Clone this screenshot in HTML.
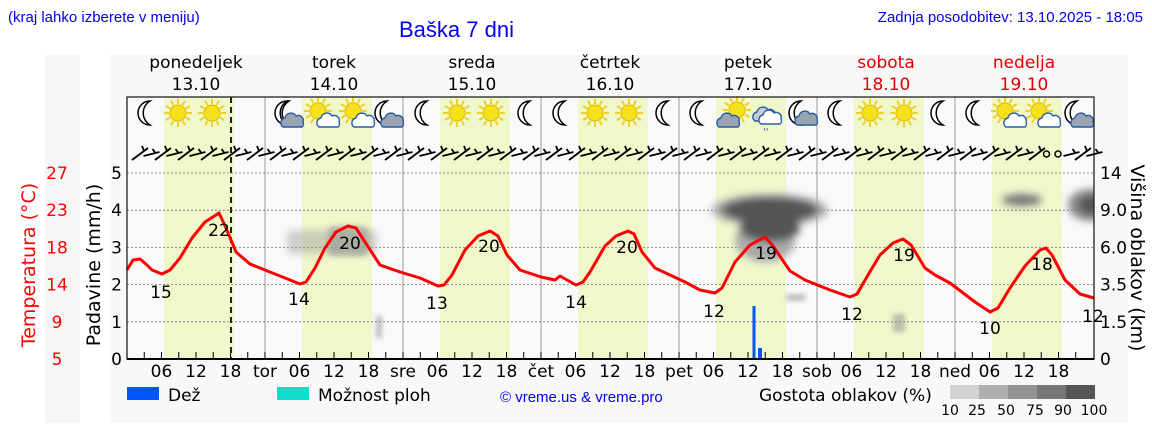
<!DOCTYPE html>
<html><head><meta charset="utf-8">
<style>
html,body{margin:0;padding:0;background:#fff;}
svg{display:block;}
text{font-family:"DejaVu Sans","Liberation Sans",sans-serif;}
.lib{font-family:"Liberation Sans",sans-serif;}
</style></head>
<body>
<svg id="s" width="1152" height="443" viewBox="0 0 1152 443" xmlns="http://www.w3.org/2000/svg">
<defs>
<filter id="bl" x="-30%" y="-30%" width="160%" height="160%"><feGaussianBlur stdDeviation="4"/></filter>
<filter id="bl2" x="-30%" y="-30%" width="160%" height="160%"><feGaussianBlur stdDeviation="2.5"/></filter>
<clipPath id="pc"><rect x="127" y="97" width="967" height="262"/></clipPath>
</defs>
<rect x="45" y="55" width="35" height="368" fill="#f6f6f6"/>
<rect x="110" y="55" width="1018" height="368" fill="#f8f8f8"/>
<text class="lib" x="8" y="22" font-size="15" fill="#0000ee">(kraj lahko izberete v meniju)</text>
<text class="lib" x="399" y="37" font-size="22" fill="#0000ee">Baška 7 dni</text>
<text class="lib" x="1143" y="22" font-size="15" fill="#0000ee" text-anchor="end">Zadnja posodobitev: 13.10.2025 - 18:05</text>
<g id="days" font-size="17" text-anchor="middle"></g>
<rect x="127" y="97" width="967" height="262" fill="#f9f9f9"/>
<g id="bands"></g>
<g id="grid"></g>
<g clip-path="url(#pc)">
<g fill="#999" filter="url(#bl)" opacity="0.45">
<rect x="287" y="230" width="90" height="24" rx="6"/>
</g>
<g fill="#999" filter="url(#bl2)" opacity="0.6">
<rect x="328" y="226" width="40" height="30" rx="6"/>
<rect x="376" y="316" width="6" height="22"/>
<rect x="786" y="294" width="20" height="7" rx="3"/>
<rect x="893" y="314" width="12" height="18"/>
</g>
<g filter="url(#bl)">
<ellipse cx="770" cy="210" rx="58" ry="16" fill="#aaa"/>
<ellipse cx="765" cy="240" rx="30" ry="22" fill="#aaa"/>
<ellipse cx="770" cy="210" rx="48" ry="13" fill="#555"/>
<ellipse cx="770" cy="228" rx="30" ry="14" fill="#555"/>
<ellipse cx="1022" cy="200" rx="20" ry="6" fill="#777"/>
<ellipse cx="1090" cy="205" rx="22" ry="16" fill="#888"/>
<ellipse cx="1092" cy="205" rx="13" ry="10" fill="#555"/>
</g>
</g>
<rect x="752.5" y="306" width="3" height="53" fill="#0055ff"/>
<rect x="758" y="348" width="4" height="11" fill="#0055ff"/>
<line x1="231" y1="97" x2="231" y2="359" stroke="#222" stroke-width="2" stroke-dasharray="6,4"/>
<path id="temp" fill="none" stroke="#ff0000" stroke-width="3" stroke-linejoin="round"/>
<g id="tl" font-size="17" text-anchor="middle"></g>
<g id="icons"></g>
<g id="barbs" stroke="#000" stroke-width="1.8" fill="none"></g>
<rect x="127" y="97" width="967" height="262" fill="none" stroke="#222" stroke-width="1.3"/>
<line x1="127" y1="359" x2="1094" y2="359" stroke="#000" stroke-width="2"/>
<g id="ax" font-size="17"></g>
<text x="35" y="265" font-size="19" fill="#ff0000" text-anchor="middle" transform="rotate(-90 35 265)">Temperatura (°C)</text>
<text x="100" y="265" font-size="19" fill="#000" text-anchor="middle" transform="rotate(-90 100 265)">Padavine (mm/h)</text>
<text x="1131" y="258" font-size="19" fill="#000" text-anchor="middle" transform="rotate(90 1131 258)">Višina oblakov (km)</text>
<rect x="127" y="387" width="32" height="13" fill="#0055ff"/>
<text x="168" y="401" font-size="17">Dež</text>
<rect x="277" y="387" width="32" height="13" fill="#11ddcc"/>
<text x="318" y="401" font-size="17">Možnost ploh</text>
<text class="lib" x="500" y="402" font-size="15" fill="#0000ee">© vreme.us &amp; vreme.pro</text>
<text x="759" y="401" font-size="17">Gostota oblakov (%)</text>
<rect x="950" y="385" width="29" height="14" fill="#d2d2d2"/>
<rect x="979" y="385" width="29" height="14" fill="#b0b0b0"/>
<rect x="1008" y="385" width="29" height="14" fill="#939393"/>
<rect x="1037" y="385" width="29" height="14" fill="#777"/>
<rect x="1066" y="385" width="29" height="14" fill="#555"/>
<g font-size="14" text-anchor="middle"><text x="950" y="415">10</text><text x="977" y="415">25</text><text x="1006" y="415">50</text><text x="1035" y="415">75</text><text x="1063" y="415">90</text><text x="1094" y="415">100</text></g>
</svg>
<script>
const NS="http://www.w3.org/2000/svg";
function el(p,t,a,tx){const e=document.createElementNS(NS,t);for(const k in a)e.setAttribute(k,a[k]);if(tx!==undefined)e.textContent=tx;document.getElementById(p).appendChild(e);return e;}
const d0=127,dw=138;
const names=["ponedeljek","torek","sreda","četrtek","petek","sobota","nedelja"];
const dates=["13.10","14.10","15.10","16.10","17.10","18.10","19.10"];
const abbr=["","tor","sre","čet","pet","sob","ned"];
for(let i=0;i<7;i++){
 const cx=d0+dw*i+69, col=i>=5?"#e00000":"#000";
 el("days","text",{x:cx,y:68,fill:col},names[i]);
 el("days","text",{x:cx,y:90,fill:col},dates[i]);
 el("bands","rect",{x:d0+dw*i+37,y:97,width:70,height:262,fill:"#eff7cb"});
 if(i>0) el("grid","line",{x1:d0+dw*i,y1:97,x2:d0+dw*i,y2:359,stroke:"#999",'stroke-width':1});
 for(let h=0;h<24;h+=3){const x=d0+dw*i+h*5.75;el("grid","line",{x1:x,y1:352,x2:x,y2:359,stroke:"#000",'stroke-width':1});}
 const ax="ax";
 if(i>0) el(ax,"text",{x:d0+dw*i,y:377,'text-anchor':"middle"},abbr[i]);
 [["06",6],["12",12],["18",18]].forEach(([t,h])=>el(ax,"text",{x:d0+dw*i+h*5.75,y:377,'text-anchor':"middle"},t));
}
for(let k=0;k<=5;k++){const y=359-k*37.2;
 if(k>0) el("grid","line",{x1:127,y1:y,x2:1094,y2:y,stroke:"#777",'stroke-width':0.8,'stroke-dasharray':"2,2"});
 el("ax","text",{x:122,y:y+6,'text-anchor':"end"},String(k));}
["0","1.5","3.5","6.0","9.0","14"].forEach((t,k)=>el("ax","text",{x:1100,y:359-k*37.2+6},t));
["5","9","14","18","23","27"].forEach((t,k)=>el("ax","text",{x:57,y:365-k*37.2,fill:"#ff0000",'text-anchor':"middle"},t));
const pts=[[127,270],[133,260],[140,259],[147,265],[152,270],[162,274],[170,270],[180,258],[192,238],[205,222],[219,213],[226,228],[236,252],[250,264],[270,272],[290,280],[300,284],[306,282],[315,268],[325,248],[336,232],[348,226],[356,228],[365,242],[380,265],[400,272],[420,278],[438,286],[444,285],[452,275],[465,250],[478,236],[490,231],[498,236],[507,255],[520,270],[541,277],[555,280],[560,276],[576,285],[583,282],[590,272],[605,246],[616,236],[628,231],[634,234],[642,252],[655,268],[670,275],[685,282],[700,290],[715,293],[722,288],[735,262],[750,245],[765,237],[773,246],[790,271],[805,280],[830,290],[850,297],[857,294],[868,275],[880,255],[893,243],[903,239],[911,245],[925,268],[935,275],[950,283],[975,302],[990,312],[998,308],[1010,288],[1025,266],[1040,250],[1046,248],[1052,255],[1065,280],[1080,294],[1094,298]];
let dd="M"+pts.map(p=>p.join(",")).join(" L");document.getElementById("temp").setAttribute("d",dd);
[[15,161,298],[22,219,236],[14,299,305],[20,350,249],[13,437,309],[20,489,252],[14,576,308],[20,627,253],[12,714,317],[19,766,259],[12,852,320],[19,904,261],[10,990,334],[18,1042,270],[12,1093,322]].forEach(([t,x,y])=>el("tl","text",{x:x,y:y},String(t)));
function moon(x,y){el("icons","path",{d:`M${x+4},${y-12} A12,12 0 1,0 ${x+4},${y+12} A14,14 0 0,1 ${x+4},${y-12}Z`,fill:"#fff",stroke:"#000",'stroke-width':1.5});}
function sun(x,y){const g=el("icons","g",{});for(let a=0;a<12;a++){const r=a*Math.PI/6;const l=document.createElementNS(NS,"line");l.setAttribute("x1",x+Math.cos(r)*9);l.setAttribute("y1",y+Math.sin(r)*9);l.setAttribute("x2",x+Math.cos(r)*14);l.setAttribute("y2",y+Math.sin(r)*14);l.setAttribute("stroke","#f0d020");l.setAttribute("stroke-width",2);g.appendChild(l);}el("icons","circle",{cx:x,cy:y,r:8,fill:"#f5e21a",stroke:"#e0b800"});}
function cloud(x,y,f){el("icons","path",{d:`M${x-10},${y+6} a5,5 0 0,1 2,-9 a6,6 0 0,1 11,-2 a5,5 0 0,1 7,6 a4,4 0 0,1 -1,5 Z`,fill:f,stroke:"#2a5da8",'stroke-width':1.4});}
const ic=[["m",146],["s",178],["s",212],["m",285],["mc",287],["sc",321],["sc",356],["mc",387],["m",423],["s",457],["s",491],["m",526],["m",561],["s",595],["s",629],["m",664],["m",698],["sc2",733],["cc",767],["mc2",801],["m",836],["s",870],["s",904],["m",939],["m",974],["sc",1008],["sc",1042],["mc",1077]];
ic.forEach(([t,x])=>{const y=113;
 if(t=="m")moon(x,y);
 if(t=="s")sun(x,y);
 if(t=="mc"){moon(x-4,y);cloud(x+6,y+8,"#9aa4b0");}
 if(t=="mc2"){moon(x-4,y);cloud(x+6,y+6,"#9aa4b0");}
 if(t=="sc"){sun(x-3,y-2);cloud(x+8,y+8,"#fff");}
 if(t=="sc2"){sun(x+4,y-3);cloud(x-4,y+8,"#9aa4b0");}
 if(t=="cc"){cloud(x-2,y+2,"#ccc");cloud(x+4,y+5,"#fff");el("icons","text",{x:x-4,y:y+22,'font-size':10,fill:"#2a5da8"},"''");}
});
for(let x=132;x<1092;x+=11.5){
 const k=Math.round((x-132)/11.5)%6;
 const b=document.createElementNS(NS,"path");
 let d;
 if(x>1030&&x<1060){el("icons","circle",{cx:x+6,cy:154,r:3,fill:"none",stroke:"#000",'stroke-width':1.5});continue;}
 if(k%2==0) d=`M${x},160 L${x+16},148 M${x+12},151 l-2,-5`; else d=`M${x},156 L${x+16},152 M${x+12},153 l-3,-4`;
 b.setAttribute("d",d);document.getElementById("barbs").appendChild(b);
}
</script>
</body></html>
